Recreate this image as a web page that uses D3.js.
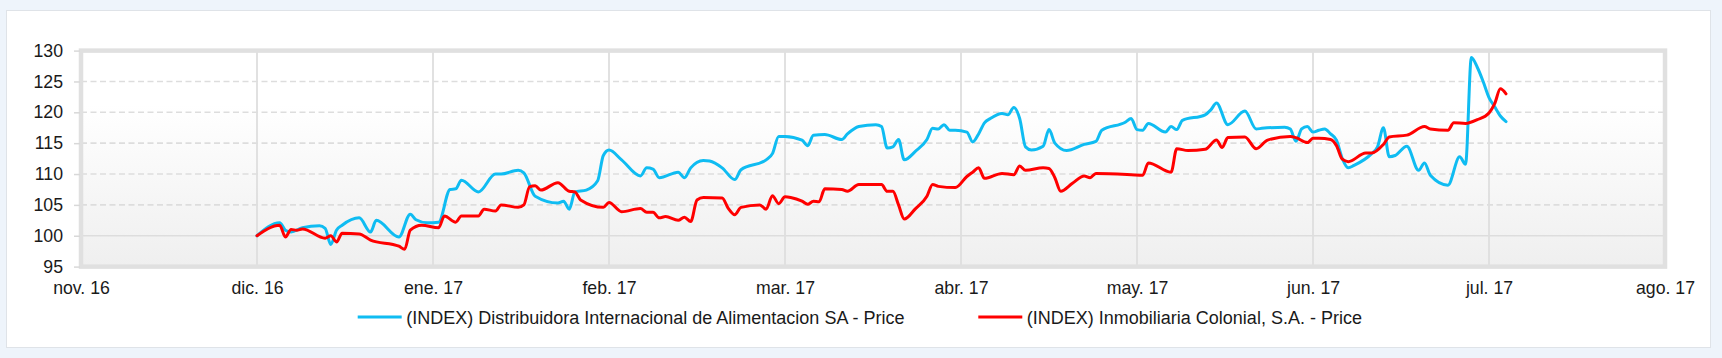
<!DOCTYPE html>
<html>
<head>
<meta charset="utf-8">
<script src="https://cdn.jsdelivr.net/npm/d3@7"></script>
<style>
  html, body { margin: 0; padding: 0; background: #eef4fb; }
  svg { display: block; font-family: "Liberation Sans", Arial, sans-serif; }
</style>
</head>
<body>
<svg id="chart" width="1722" height="358"></svg>
<script>
const monthLabels = ["nov. 16","dic. 16","ene. 17","feb. 17","mar. 17","abr. 17","may. 17","jun. 17","jul. 17","ago. 17"];
const yTicks = [95,100,105,110,115,120,125,130];
const seriesNames = ["(INDEX) Distribuidora Internacional de Alimentacion SA - Price","(INDEX) Inmobiliaria Colonial, S.A. - Price"];
const seriesColors = ["#0fbcf2","#ff0000"];

const diaSeries = [
 ["2016-12-01",100],["2016-12-05",102.1],["2016-12-06",100.9],["2016-12-07",100.6],["2016-12-09",101.3],["2016-12-12",101.6],["2016-12-13",101.2],["2016-12-14",98.6],["2016-12-15",100.9],["2016-12-16",101.7],["2016-12-19",102.9],["2016-12-21",100.6],["2016-12-22",102.5],["2016-12-26",99.8],["2016-12-28",103.5],["2016-12-29",102.6],["2016-12-31",102.1],
 ["2017-01-02",102.2],["2017-01-04",107.5],["2017-01-05",107.6],["2017-01-06",109.0],["2017-01-09",107.1],["2017-01-12",110.0],["2017-01-13",110.0],["2017-01-16",110.6],["2017-01-17",110.2],["2017-01-19",106.4],["2017-01-23",105.3],["2017-01-24",105.6],["2017-01-25",104.3],["2017-01-26",107.1],["2017-01-28",107.4],["2017-01-30",108.9],["2017-01-31",113.0],
 ["2017-02-01",113.9],["2017-02-03",112.3],["2017-02-06",109.7],["2017-02-07",111.0],["2017-02-08",110.8],["2017-02-09",109.4],["2017-02-12",110.3],["2017-02-13",109.4],["2017-02-14",111.0],["2017-02-16",112.2],["2017-02-17",112.1],["2017-02-19",111.0],["2017-02-21",109.1],["2017-02-22",110.7],["2017-02-26",112.3],["2017-02-27",113.3],["2017-02-28",116.1],
 ["2017-03-01",116.1],["2017-03-04",115.5],["2017-03-05",114.6],["2017-03-06",116.3],["2017-03-08",116.4],["2017-03-11",115.6],["2017-03-12",116.5],["2017-03-14",117.7],["2017-03-17",118.0],["2017-03-18",117.7],["2017-03-19",114.2],["2017-03-20",114.4],["2017-03-21",115.6],["2017-03-22",112.3],["2017-03-24",113.7],["2017-03-26",115.6],["2017-03-27",117.4],["2017-03-28",117.3],["2017-03-29",118.0],["2017-03-30",117.1],["2017-03-31",117.1],
 ["2017-04-02",116.8],["2017-04-03",115.2],["2017-04-04",116.5],["2017-04-05",118.3],["2017-04-06",119.0],["2017-04-08",119.8],["2017-04-09",119.6],["2017-04-10",120.8],["2017-04-11",119.0],["2017-04-12",114.4],["2017-04-13",113.9],["2017-04-15",114.5],["2017-04-16",117.2],["2017-04-17",115.0],["2017-04-19",113.8],["2017-04-22",114.8],["2017-04-24",115.3],["2017-04-25",117.1],["2017-04-29",118.4],["2017-04-30",119.0],
 ["2017-05-01",117.2],["2017-05-02",117.1],["2017-05-03",118.2],["2017-05-06",116.8],["2017-05-07",117.7],["2017-05-08",117.2],["2017-05-09",118.7],["2017-05-13",119.6],["2017-05-14",120.4],["2017-05-15",121.5],["2017-05-17",118.0],["2017-05-20",120.2],["2017-05-22",117.3],["2017-05-23",117.4],["2017-05-27",117.6],["2017-05-28",117.3],["2017-05-29",115.3],["2017-05-30",117.3],["2017-05-31",117.7],
 ["2017-06-01",116.8],["2017-06-02",117.1],["2017-06-03",117.3],["2017-06-04",116.5],["2017-06-05",115.5],["2017-06-06",112.5],["2017-06-07",111.0],["2017-06-08",111.4],["2017-06-11",113.3],["2017-06-12",114.4],["2017-06-13",117.5],["2017-06-14",112.8],["2017-06-15",113.0],["2017-06-17",114.5],["2017-06-19",110.6],["2017-06-20",111.8],["2017-06-21",109.8],["2017-06-24",108.2],["2017-06-26",112.8],["2017-06-27",111.6],["2017-06-28",128.9],["2017-06-29",127.3],["2017-06-30",125.0],
 ["2017-07-01",122.4],["2017-07-02",120.9],["2017-07-03",119.4],["2017-07-04",118.5]
];

const colonialSeries = [
 ["2016-12-01",100],["2016-12-05",101.7],["2016-12-06",99.8],["2016-12-07",101.0],["2016-12-08",100.9],["2016-12-09",101.1],["2016-12-13",99.6],["2016-12-14",100.0],["2016-12-15",99.0],["2016-12-16",100.4],["2016-12-19",100.3],["2016-12-21",99.3],["2016-12-26",98.3],["2016-12-27",97.8],["2016-12-28",100.9],["2016-12-30",101.7],
 ["2017-01-02",101.3],["2017-01-03",103.2],["2017-01-05",102.2],["2017-01-06",103.2],["2017-01-09",103.2],["2017-01-10",104.3],["2017-01-12",104.0],["2017-01-13",105.0],["2017-01-16",104.6],["2017-01-17",105.0],["2017-01-18",107.9],["2017-01-19",108.1],["2017-01-20",107.4],["2017-01-23",108.6],["2017-01-25",107.2],["2017-01-26",107.1],["2017-01-27",105.8],["2017-01-31",104.6],
 ["2017-02-01",105.4],["2017-02-03",103.9],["2017-02-06",104.4],["2017-02-07",103.8],["2017-02-08",103.8],["2017-02-09",102.9],["2017-02-10",103.1],["2017-02-12",102.5],["2017-02-13",103.0],["2017-02-14",102.3],["2017-02-15",105.8],["2017-02-16",106.2],["2017-02-19",106.1],["2017-02-20",104.4],["2017-02-21",103.4],["2017-02-22",104.6],["2017-02-25",105.0],["2017-02-26",104.3],["2017-02-27",106.5],["2017-02-28",105.2],
 ["2017-03-01",106.3],["2017-03-02",106.2],["2017-03-04",105.6],["2017-03-05",105.1],["2017-03-06",105.6],["2017-03-07",105.5],["2017-03-08",107.6],["2017-03-11",107.5],["2017-03-12",107.2],["2017-03-14",108.3],["2017-03-18",108.3],["2017-03-19",107.2],["2017-03-20",107.2],["2017-03-21",105.0],["2017-03-22",102.7],["2017-03-24",104.4],["2017-03-26",106.4],["2017-03-27",108.3],["2017-03-28",108.0],["2017-03-31",107.8],
 ["2017-04-02",109.6],["2017-04-03",110.3],["2017-04-04",111.0],["2017-04-05",109.3],["2017-04-08",110.1],["2017-04-10",109.9],["2017-04-11",111.3],["2017-04-12",110.6],["2017-04-15",111.0],["2017-04-16",110.9],["2017-04-17",109.4],["2017-04-18",107.2],["2017-04-20",108.5],["2017-04-22",109.7],["2017-04-23",109.4],["2017-04-24",110.1],["2017-04-30",109.9],
 ["2017-05-02",109.8],["2017-05-03",111.8],["2017-05-07",110.3],["2017-05-08",114.1],["2017-05-10",113.8],["2017-05-13",114.0],["2017-05-15",115.5],["2017-05-16",114.3],["2017-05-17",115.9],["2017-05-20",116.0],["2017-05-22",114.1],["2017-05-24",115.5],["2017-05-28",116.1],["2017-05-29",115.9],["2017-05-31",115.1],
 ["2017-06-01",115.8],["2017-06-02",115.8],["2017-06-04",115.6],["2017-06-05",114.6],["2017-06-06",112.4],["2017-06-07",112.0],["2017-06-10",113.4],["2017-06-11",113.4],["2017-06-13",114.8],["2017-06-14",116.0],["2017-06-17",116.3],["2017-06-20",117.7],["2017-06-21",117.3],["2017-06-24",117.1],["2017-06-25",118.3],["2017-06-27",118.2],["2017-06-29",118.8],
 ["2017-07-01",119.9],["2017-07-02",121.4],["2017-07-03",123.8],["2017-07-04",123.0]
];

// months are drawn with equal width; position = month index (nov 16 = 0) + fraction of month
const parse = d3.timeParse("%Y-%m-%d");
function monthPos(s) {
  const d = parse(s);
  const idx = (d.getFullYear() - 2016) * 12 + d.getMonth() - 10;
  const dim = new Date(d.getFullYear(), d.getMonth() + 1, 0).getDate();
  return idx + (d.getDate() - 1) / dim;
}

const svg = d3.select("#chart");
const W = 1722, H = 358;
const plot = { left: 81, right: 1665, top: 50.6, bottom: 266.6 };

const x = d3.scaleLinear().domain([0, monthLabels.length - 1]).range([plot.left, plot.right]);
const y = d3.scaleLinear().domain([95, 130]).range([plot.bottom, plot.top]);

// panel
svg.append("rect").attr("x", 6.5).attr("y", 10.5).attr("width", 1704).attr("height", 337)
  .attr("fill", "#ffffff").attr("stroke", "#dfe3e8").attr("stroke-width", 1);

const defs = svg.append("defs");
const grad = defs.append("linearGradient").attr("id", "bg").attr("x1", 0).attr("y1", 0).attr("x2", 0).attr("y2", 1);
grad.append("stop").attr("offset", "0%").attr("stop-color", "#ffffff");
grad.append("stop").attr("offset", "25%").attr("stop-color", "#ffffff");
grad.append("stop").attr("offset", "100%").attr("stop-color", "#efefef");

svg.append("rect").attr("x", plot.left).attr("y", plot.top)
  .attr("width", plot.right - plot.left).attr("height", plot.bottom - plot.top)
  .attr("fill", "url(#bg)");

// horizontal grid
const g = svg.append("g");
g.selectAll("line.h").data(yTicks.filter(v => v > 95 && v < 130)).enter().append("line")
  .attr("x1", plot.left).attr("x2", plot.right)
  .attr("y1", d => y(d)).attr("y2", d => y(d))
  .attr("stroke", "#dddddd").attr("stroke-width", 1.6)
  .attr("stroke-dasharray", d => d === 100 ? null : "6,3.5");

// vertical grid
g.selectAll("line.v").data(d3.range(1, monthLabels.length - 1)).enter().append("line")
  .attr("x1", d => x(d)).attr("x2", d => x(d))
  .attr("y1", plot.top).attr("y2", plot.bottom)
  .attr("stroke", "#dedede").attr("stroke-width", 1.8);

// frame
svg.append("rect").attr("x", plot.left).attr("y", plot.top)
  .attr("width", plot.right - plot.left).attr("height", plot.bottom - plot.top)
  .attr("fill", "none").attr("stroke", "#e0e0e0").attr("stroke-width", 4.5);

// axes
const yAxis = d3.axisLeft(y).tickValues(yTicks).tickSize(6).tickPadding(11).tickFormat(d3.format("d"));
const ya = svg.append("g").attr("transform", `translate(${plot.left - 1},0)`).call(yAxis);
ya.select(".domain").remove();
ya.selectAll(".tick line").attr("stroke", "#d8d8d8").attr("stroke-width", 1.5);
ya.selectAll(".tick text").attr("fill", "#1a1a1a").style("font-size", "17.7px");

const xAxis = d3.axisBottom(x).tickValues(d3.range(monthLabels.length)).tickSize(0).tickPadding(0)
  .tickFormat(i => monthLabels[i]);
const xa = svg.append("g").attr("transform", `translate(0,${plot.bottom})`).call(xAxis);
xa.select(".domain").remove();
xa.selectAll(".tick text").attr("fill", "#1a1a1a").style("font-size", "17.7px").attr("dy", null).attr("y", 27.5);

// lines
const line = d3.line().x(d => x(monthPos(d[0]))).y(d => y(d[1])).curve(d3.curveMonotoneX);
[diaSeries, colonialSeries].forEach((s, i) => {
  svg.append("path").datum(s).attr("d", line).attr("fill", "none")
    .attr("stroke", seriesColors[i]).attr("stroke-width", 3)
    .attr("stroke-linejoin", "round").attr("stroke-linecap", "round");
});

// legend
const legendX = [357.7, 978.3];
const lg = svg.append("g");
seriesNames.forEach((n, i) => {
  lg.append("line").attr("x1", legendX[i]).attr("x2", legendX[i] + 44).attr("y1", 317).attr("y2", 317)
    .attr("stroke", seriesColors[i]).attr("stroke-width", 3);
  lg.append("text").attr("x", legendX[i] + 48.5).attr("y", 323.5).attr("fill", "#1a1a1a")
    .style("font-size", "18px").text(n);
});
</script>
</body>
</html>
